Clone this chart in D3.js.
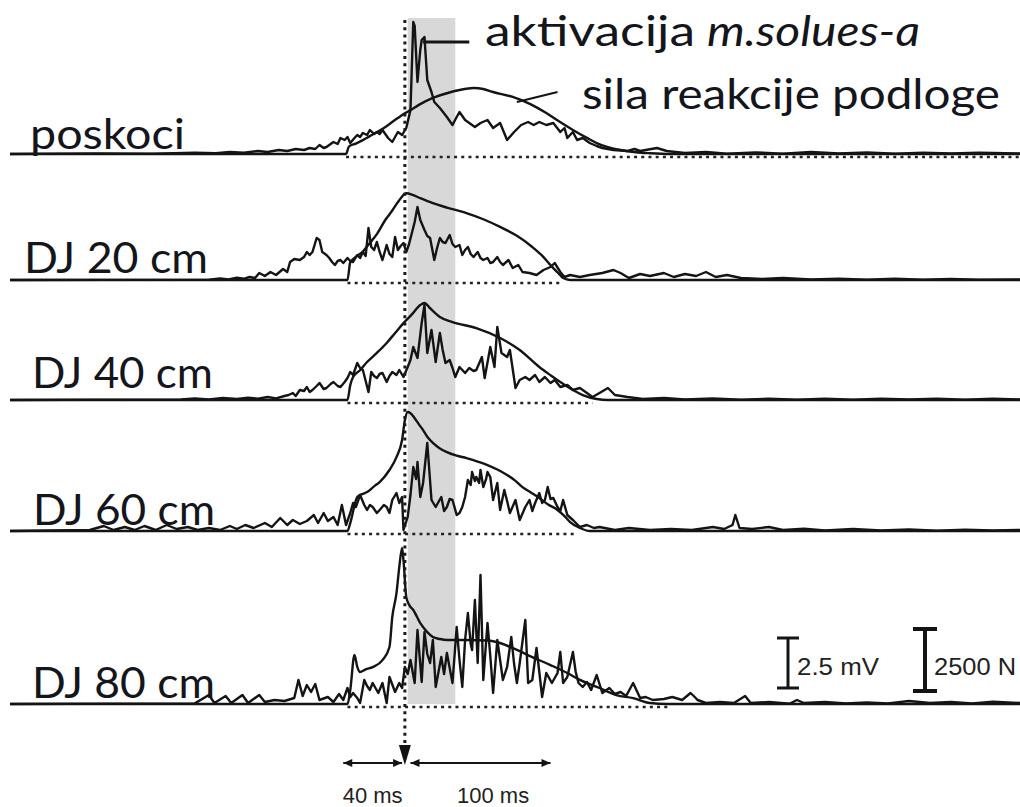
<!DOCTYPE html>
<html>
<head>
<meta charset="utf-8">
<script src="https://cdn.jsdelivr.net/npm/d3@7"></script>
<style>
  html, body { margin: 0; padding: 0; background: #fff; }
  svg { display: block; }
</style>
</head>
<body>
<svg id="chart" width="1020" height="807"></svg>
<script>
// ---- data: time in ms (0 = marked EMG onset), EMG in mV, ground reaction force in N ----
const conditions = ["poskoci", "DJ 20 cm", "DJ 40 cm", "DJ 60 cm", "DJ 80 cm"];

const emgPoskoci = [[-282,0],[-220,0.03],[-180,0.02],[-150,0.06],[-135,0.04],[-125,0.1],[-115,0.06],[-105,0.15],[-98,0.1],[-90,0.2],[-84,0.15],[-78,0.25],[-72,0.2],[-68,0.3],[-64,0.25],[-61,0.45],[-58,0.3],[-56,0.35],[-53,0.5],[-51,0.6],[-48,0.5],[-46,0.8],[-43,0.7],[-41,0.85],[-39,0.55],[-36,0.8],[-34,0.95],[-32,0.85],[-30,1.05],[-27,0.95],[-25,1.2],[-22,1.0],[-20,1.1],[-18,1.0],[-16,1.2],[-14,1.0],[-12,0.8],[-9,0.6],[-7,0.85],[-5,1.1],[-2,0.95],[1,1.3],[4,2.2],[6,6.6],[7,6.4],[9,3.6],[11,5.2],[12,5.7],[14,5.85],[16,3.7],[19,3.1],[21,2.6],[25,2.3],[30,1.85],[34,1.45],[37,1.85],[39,2.1],[43,1.7],[46,1.55],[50,1.35],[54,1.55],[59,1.7],[63,1.3],[68,1.55],[73,0.7],[78,1.1],[83,1.45],[88,1.6],[92,1.45],[96,1.6],[101,1.45],[106,1.55],[111,1.1],[114,1.3],[116,0.8],[120,1.1],[123,0.7],[127,0.8],[132,0.55],[137,0.4],[141,0.3],[149,0.2],[159,0.15],[164,0.25],[168,0.15],[180,0.3],[187,0.15],[200,0.05],[215,0.1],[230,0.02],[250,0.08],[270,0.02],[290,0.1],[310,0.03],[330,0.08],[350,0.02],[370,0.07],[390,0.03],[410,0.06],[440,0.03]];

const forcePoskoci = [[-282,0],[-42,0],[-40,300],[-35,420],[-30,560],[-25,720],[-20,880],[-15,1050],[-10,1250],[-5,1450],[0,1640],[4,1770],[10,1980],[20,2260],[30,2450],[39,2580],[49,2660],[56,2620],[63,2500],[77,2300],[90,2000],[101,1650],[110,1320],[120,970],[130,650],[137,440],[145,280],[154,160],[165,70],[175,30],[190,0],[440,0]];

const emgDJ20 = [[-282,0],[-140,0.02],[-132,0.08],[-126,0.03],[-120,0.12],[-115,0.06],[-111,0.15],[-107,0.1],[-104,0.35],[-100,0.2],[-96,0.4],[-92,0.25],[-87,0.55],[-84,0.4],[-82,0.9],[-79,1.05],[-75,1.0],[-72,1.15],[-70,1.4],[-68,1.25],[-66,1.4],[-63,2.1],[-61,2.0],[-59,1.4],[-56,1.25],[-54,1.1],[-52,0.9],[-50,0.75],[-48,0.95],[-46,1.0],[-44,0.85],[-41,1.1],[-39,0.95],[-37,0.9],[-34,1.25],[-32,1.1],[-30,1.4],[-28,1.2],[-26,2.6],[-24,1.65],[-22,1.5],[-20,1.9],[-18,1.4],[-16,1.0],[-13,1.75],[-11,1.3],[-9,1.15],[-7,2.15],[-5,1.5],[-3,1.7],[-1,1.85],[1,1.4],[3,1.8],[5,2.35],[7,2.9],[9,3.65],[11,3.0],[14,2.5],[16,2.2],[18,2.1],[21,1.0],[23,1.6],[25,2.1],[27,1.9],[29,1.85],[32,2.25],[34,1.8],[36,1.65],[39,1.75],[41,1.25],[43,1.5],[45,1.65],[47,1.3],[49,1.15],[52,1.4],[54,1.1],[56,1.0],[59,1.1],[61,0.85],[63,0.9],[66,1.15],[68,0.9],[70,0.75],[74,1.0],[77,0.6],[81,0.75],[84,0.4],[89,0.35],[94,0.25],[99,0.5],[104,0.65],[107,0.85],[111,0.4],[114,0.15],[118,0.25],[125,0.15],[132,0.25],[141,0.35],[149,0.5],[154,0.35],[160,0.1],[168,0.3],[175,0.2],[185,0.35],[192,0.15],[200,0.3],[208,0.2],[215,0.4],[222,0.15],[230,0.25],[240,0.1],[255,0.05],[270,0.1],[290,0.03],[310,0.07],[330,0.02],[350,0.06],[370,0.02],[390,0.05],[410,0.02],[440,0.03]];

const forceDJ20 = [[-282,0],[-41,0],[-39,720],[-36,890],[-30,1150],[-25,1490],[-20,1850],[-14,2420],[-9,2800],[-4,3220],[1,3500],[6,3420],[11,3300],[20,3100],[30,2920],[44,2700],[56,2450],[68,2140],[80,1780],[91,1330],[98,980],[104,600],[110,250],[113,80],[118,0],[440,0]];

const emgDJ40 = [[-282,0],[-160,0.03],[-150,0.08],[-140,0.03],[-130,0.1],[-120,0.05],[-112,0.12],[-105,0.06],[-98,0.15],[-92,0.08],[-86,0.2],[-83,0.25],[-80,0.35],[-78,0.2],[-75,0.5],[-72,0.45],[-70,0.65],[-68,0.4],[-66,0.5],[-63,0.7],[-61,0.85],[-58,0.55],[-56,0.6],[-53,0.8],[-51,0.9],[-48,0.7],[-46,0.65],[-43,0.9],[-41,1.1],[-39,1.4],[-37,1.25],[-34,1.85],[-32,1.6],[-30,1.5],[-26,0.4],[-24,1.4],[-22,1.2],[-20,1.1],[-18,1.3],[-16,1.35],[-13,0.9],[-11,1.2],[-9,1.4],[-6,1.25],[-4,1.5],[-1,1.15],[2,1.65],[4,2.0],[6,2.65],[9,2.1],[12,3.85],[14,4.75],[16,2.35],[19,3.5],[22,1.9],[25,3.35],[27,2.5],[29,1.85],[32,2.0],[34,1.6],[36,1.15],[39,1.65],[43,1.35],[46,1.6],[49,1.45],[51,1.5],[55,2.15],[57,1.1],[61,2.65],[64,1.65],[66,3.65],[69,2.35],[73,2.15],[75,2.5],[79,0.6],[82,1.0],[86,1.15],[89,1.0],[93,1.25],[96,0.9],[100,1.15],[104,0.85],[107,1.0],[111,0.65],[116,0.75],[120,0.5],[125,0.6],[130,0.35],[134,0.15],[139,0.35],[145,0.6],[150,0.25],[159,0.15],[170,0.05],[185,0.1],[200,0.03],[220,0.08],[240,0.02],[260,0.06],[280,0.02],[300,0.07],[320,0.02],[340,0.06],[360,0.03],[380,0.07],[400,0.02],[420,0.06],[440,0.03]];

const forceDJ40 = [[-282,0],[-41,0],[-39,600],[-37,930],[-32,1200],[-27,1530],[-20,1900],[-13,2300],[-7,2700],[-1,3100],[5,3450],[11,3830],[14,3910],[18,3700],[25,3350],[34,3140],[51,2900],[68,2500],[82,2015],[96,1330],[104,1000],[111,725],[120,400],[127,200],[137,40],[145,0],[440,0]];

const emgDJ60 = [[-282,0],[-225,0.05],[-215,0.25],[-208,0.05],[-200,0.2],[-193,0.05],[-186,0.25],[-178,0.05],[-170,0.3],[-163,0.1],[-155,0.2],[-148,0.05],[-140,0.15],[-132,0.05],[-125,0.25],[-120,0.1],[-114,0.3],[-108,0.15],[-100,0.4],[-95,0.2],[-89,0.65],[-84,0.3],[-80,0.55],[-75,0.35],[-70,0.5],[-65,0.8],[-62,0.4],[-58,0.9],[-55,0.5],[-51,0.7],[-48,0.3],[-45,1.3],[-42,0.3],[-39,0.9],[-37,1.4],[-35,1.2],[-32,1.8],[-29,1.3],[-27,1.05],[-25,1.3],[-23,1.2],[-20,0.9],[-18,1.05],[-15,1.3],[-13,1.2],[-11,0.9],[-9,1.55],[-6,1.9],[-4,1.4],[-2,1.7],[-1,0.05],[2,0.7],[4,1.8],[6,3.2],[8,2.6],[9,3.45],[11,1.7],[13,2.4],[16,4.4],[19,1.55],[22,1.2],[26,1.7],[28,1.0],[30,1.2],[32,1.6],[34,1.55],[37,0.8],[39,0.9],[41,1.2],[43,1.7],[45,2.55],[47,2.3],[48,2.95],[50,2.5],[51,2.7],[53,2.4],[54,3.05],[56,2.2],[58,2.6],[59,2.95],[61,2.7],[63,1.55],[66,2.4],[68,1.05],[71,2.05],[73,1.5],[75,0.9],[79,1.55],[82,0.55],[86,1.2],[89,1.55],[91,1.0],[93,1.4],[96,1.9],[98,1.4],[100,1.55],[102,2.2],[104,1.6],[106,1.65],[109,1.2],[111,1.0],[113,1.55],[116,0.8],[120,0.55],[125,0.2],[130,0.3],[135,0.15],[139,0.2],[150,0.05],[160,0.15],[175,0.05],[190,0.1],[205,0.05],[220,0.2],[228,0.1],[234,0.3],[236,0.8],[239,0.15],[248,0.1],[260,0.2],[270,0.05],[285,0.12],[300,0.03],[320,0.1],[340,0.03],[360,0.08],[380,0.02],[400,0.07],[420,0.03],[440,0.05]];

const forceDJ60 = [[-282,0],[-41,0],[-39,320],[-34,1370],[-30,1500],[-27,1570],[-22,1800],[-18,1975],[-11,2460],[-6,2980],[-2,3670],[0,4470],[2,4800],[4,4750],[7,4550],[10,4300],[13,4070],[16,3800],[20,3550],[25,3330],[30,3180],[37,3040],[44,2940],[52,2800],[59,2660],[66,2480],[73,2260],[79,2020],[84,1770],[90,1550],[96,1330],[102,1080],[109,850],[114,600],[118,360],[125,120],[132,0],[440,0]];

const emgDJ80 = [[-282,0],[-150,0.03],[-140,0.45],[-136,0.05],[-128,0.4],[-124,0.05],[-116,0.45],[-112,0.05],[-104,0.45],[-100,0.1],[-93,0.2],[-86,0.15],[-79,0.3],[-76,1.2],[-73,0.4],[-70,0.95],[-67,0.6],[-64,1.0],[-61,0.2],[-55,0.35],[-51,0.1],[-47,0.5],[-44,0.2],[-41,0.8],[-39,0.35],[-37,0.55],[-34,0.3],[-32,0.05],[-29,1.2],[-27,0.9],[-25,0.7],[-23,1.05],[-19,0.55],[-16,1.05],[-13,0.05],[-11,1.35],[-7,0.6],[-4,1.05],[-2,0.8],[0,1.85],[2,1.5],[4,2.2],[7,1.05],[9,3.7],[12,1.1],[14,3.6],[16,2.5],[18,2.05],[20,3.2],[22,0.85],[24,1.6],[26,2.35],[28,1.5],[30,2.55],[34,1.05],[37,3.85],[39,2.2],[41,0.85],[43,3.2],[45,4.55],[47,3.0],[48,2.7],[50,5.2],[52,2.05],[54,6.45],[56,1.2],[59,4.05],[61,2.4],[63,0.55],[66,3.2],[68,2.2],[70,1.2],[73,1.85],[76,3.35],[78,2.0],[80,1.05],[82,2.05],[86,4.2],[88,1.05],[91,1.2],[94,2.8],[96,1.6],[98,0.35],[101,1.55],[105,1.05],[109,1.55],[111,2.6],[113,1.05],[116,1.35],[120,2.6],[122,1.6],[124,1.05],[127,0.85],[130,1.1],[133,0.7],[137,1.45],[141,0.55],[146,0.8],[150,0.5],[154,0.6],[158,0.4],[163,1.05],[168,0.3],[172,0.35],[177,0.2],[185,0.25],[191,0.35],[198,0.2],[204,0.55],[207,0.35],[209,0.2],[215,0.05],[225,0.1],[235,0.05],[243,0.4],[247,0.05],[260,0.1],[275,0.02],[280,0.2],[285,0.05],[300,0.1],[315,0.03],[330,0.08],[345,0.03],[360,0.15],[375,0.05],[390,0.1],[405,0.03],[420,0.12],[440,0.05]];

const forceDJ80 = [[-282,0],[-41,0],[-39,565],[-36,1975],[-34,1500],[-32,1290],[-28,1400],[-23,1490],[-16,1770],[-11,2300],[-9,3500],[-6,4470],[-4,5520],[-2,6290],[-1,5800],[1,4310],[3,4000],[6,3790],[11,3260],[16,2900],[20,2700],[25,2620],[30,2580],[44,2580],[59,2560],[68,2460],[80,2180],[91,1890],[104,1570],[116,1250],[125,970],[139,645],[151,360],[163,240],[175,40],[187,0],[440,0]];

// contact windows (ms) marked by the dotted reference line under each trace
const contactStart = [-42, -41, -41, -41, -41];
const contactEnd = [440, 113, 134, 122, 190];

// shaded window after onset, and the two time intervals annotated below
const shadedWindow = [2, 36];
const intervals = [[-44, -2], [4, 104]];
const intervalLabels = ["40 ms", "100 ms"];

// calibration bars
const emgBar = 2.5;     // mV
const forceBar = 2500;  // N

// ---- layout ----
const svg = d3.select("#chart");
const ink = "#141414";
const baselines = [154, 280, 400, 531, 704];

const x = d3.scaleLinear().domain([-282, 440]).range([10, 1021]);
const mv = d3.scaleLinear().domain([0, 2.5]).range([0, 50]);
const nt = d3.scaleLinear().domain([0, 2500]).range([0, 62]);

const emgSeries = [emgPoskoci, emgDJ20, emgDJ40, emgDJ60, emgDJ80];
const forceSeries = [forcePoskoci, forceDJ20, forceDJ40, forceDJ60, forceDJ80];

// shaded window
svg.append("rect")
  .attr("x", x(shadedWindow[0]))
  .attr("y", 18)
  .attr("width", x(shadedWindow[1]) - x(shadedWindow[0]))
  .attr("height", baselines[4] - 18)
  .attr("fill", "#d8d8d8");

// dotted contact lines
conditions.forEach((c, i) => {
  svg.append("line")
    .attr("x1", x(contactStart[i])).attr("x2", x(contactEnd[i]))
    .attr("y1", baselines[i] + 3).attr("y2", baselines[i] + 3)
    .attr("stroke", "#222").attr("stroke-width", 2.6)
    .attr("stroke-dasharray", "3,4.2");
});

// traces
conditions.forEach((c, i) => {
  const b = baselines[i];
  const emgLine = d3.line().x(d => x(d[0])).y(d => b - mv(d[1]));
  const forceLine = d3.line().x(d => x(d[0])).y(d => b - nt(d[1])).curve(d3.curveMonotoneX);
  svg.append("path").datum(forceSeries[i])
    .attr("d", forceLine)
    .attr("fill", "none").attr("stroke", ink)
    .attr("stroke-width", 2.4).attr("stroke-linejoin", "round");
  svg.append("path").datum(emgSeries[i])
    .attr("d", emgLine)
    .attr("fill", "none").attr("stroke", ink)
    .attr("stroke-width", 2.4).attr("stroke-linejoin", "round");
});

// condition labels
const labelFont = "Lato, 'Open Sans', sans-serif";
const labelPos = [[30, 149, 155], [24, 273, 184], [32, 388, 181], [33, 525, 182], [32, 698, 183]];
conditions.forEach((c, i) => {
  svg.append("text")
    .attr("x", labelPos[i][0]).attr("y", labelPos[i][1])
    .attr("font-family", labelFont).attr("font-size", 42)
    .attr("fill", "#15151c")
    .attr("textLength", labelPos[i][2]).attr("lengthAdjust", "spacingAndGlyphs")
    .text(c);
});

// onset marker: vertical dotted line ending in an arrow
const x0 = x(0);
svg.append("line")
  .attr("x1", x0).attr("x2", x0).attr("y1", 20).attr("y2", 748)
  .attr("stroke", "#1a1a1a").attr("stroke-width", 3)
  .attr("stroke-dasharray", "3,4.2");
svg.append("path")
  .attr("d", `M${x0 - 6},745 L${x0 + 6},745 L${x0},765 Z`)
  .attr("fill", ink);

// interval arrows
const arrowY = 763;
intervals.forEach((iv, k) => {
  const xa = x(iv[0]), xb = x(iv[1]);
  svg.append("line").attr("x1", xa).attr("x2", xb).attr("y1", arrowY).attr("y2", arrowY)
    .attr("stroke", ink).attr("stroke-width", 2);
  svg.append("path").attr("d", `M${xa},${arrowY} L${xa + 9},${arrowY - 4} L${xa + 9},${arrowY + 4} Z`).attr("fill", ink);
  svg.append("path").attr("d", `M${xb},${arrowY} L${xb - 9},${arrowY - 4} L${xb - 9},${arrowY + 4} Z`).attr("fill", ink);
  svg.append("text")
    .attr("x", (k === 0 ? x(-23) : x(63))).attr("y", 803)
    .attr("text-anchor", "middle")
    .attr("font-family", "'Liberation Sans', Arial, sans-serif").attr("font-size", 22)
    .attr("fill", "#222")
    .text(intervalLabels[k]);
});

// calibration bars
function calBar(xc, yBottom, h, capW, sw, label, w) {
  const g = svg.append("g").attr("stroke", ink).attr("stroke-width", sw);
  g.append("line").attr("x1", xc).attr("x2", xc).attr("y1", yBottom).attr("y2", yBottom - h);
  g.append("line").attr("x1", xc - capW / 2).attr("x2", xc + capW / 2).attr("y1", yBottom).attr("y2", yBottom);
  g.append("line").attr("x1", xc - capW / 2).attr("x2", xc + capW / 2).attr("y1", yBottom - h).attr("y2", yBottom - h);
  svg.append("text")
    .attr("x", xc + 9).attr("y", 675)
    .attr("font-family", "'Liberation Sans', Arial, sans-serif").attr("font-size", 24)
    .attr("fill", "#222")
    .attr("textLength", w).attr("lengthAdjust", "spacingAndGlyphs")
    .text(label);
}
calBar(788, 688, mv(emgBar), 22, 3, `${emgBar} mV`, 82);
calBar(925, 691, nt(forceBar), 24, 4, `${forceBar} N`, 82);

// annotation labels with leaders
svg.append("line")
  .attr("x1", x(13)).attr("x2", x(46))
  .attr("y1", baselines[0] - mv(5.6)).attr("y2", baselines[0] - mv(5.6))
  .attr("stroke", ink).attr("stroke-width", 3);
svg.append("text")
  .attr("x", 485).attr("y", 46)
  .attr("font-family", labelFont).attr("font-size", 42).attr("fill", "#15151c")
  .attr("textLength", 210).attr("lengthAdjust", "spacingAndGlyphs")
  .text("aktivacija");
svg.append("text")
  .attr("x", 707).attr("y", 46)
  .attr("font-family", labelFont).attr("font-size", 42).attr("font-style", "italic").attr("fill", "#15151c")
  .attr("textLength", 213).attr("lengthAdjust", "spacingAndGlyphs")
  .text("m.solues-a");

svg.append("line")
  .attr("x1", x(80)).attr("y1", baselines[0] - nt(2100))
  .attr("x2", x(109)).attr("y2", baselines[0] - nt(2500))
  .attr("stroke", ink).attr("stroke-width", 2);
svg.append("text")
  .attr("x", 582).attr("y", 109)
  .attr("font-family", labelFont).attr("font-size", 42).attr("fill", "#15151c")
  .attr("textLength", 418).attr("lengthAdjust", "spacingAndGlyphs")
  .text("sila reakcije podloge");
</script>
</body>
</html>
